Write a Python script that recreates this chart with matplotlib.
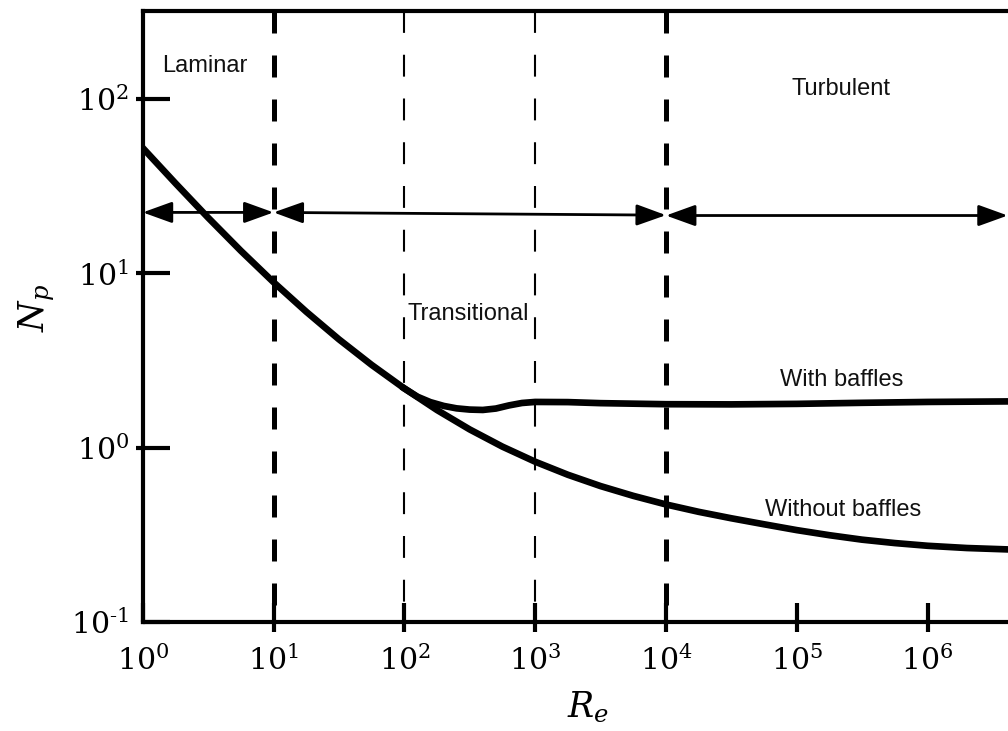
import matplotlib
matplotlib.use("Agg")
import matplotlib.pyplot as plt
from matplotlib.patches import FancyArrowPatch
from matplotlib.ticker import FixedLocator, FixedFormatter, NullFormatter

plt.rcParams["mathtext.fontset"] = "dejavuserif"
plt.rcParams["font.family"] = ["Liberation Sans", "DejaVu Sans"]

# Power number vs Reynolds number for a stirred tank
re_without = [1, 1.78, 3.16, 5.62, 10, 17.8, 31.6, 56.2, 100, 178, 316, 562,
              1e3, 1.78e3, 3.16e3, 5.62e3, 1e4, 1.78e4, 3.16e4, 5.62e4, 1e5,
              1.78e5, 3.16e5, 5.62e5, 1e6, 2e6, 4.2e6]
np_without = [52.5, 32.9, 20.9, 13.5, 8.91, 6.03, 4.19, 2.99, 2.19, 1.645, 1.274,
              1.015, 0.832, 0.70, 0.603, 0.53, 0.473, 0.429, 0.394, 0.364, 0.337,
              0.315, 0.297, 0.284, 0.274, 0.266, 0.261]

re_with = [100, 126, 158, 200, 251, 316, 398, 501, 631, 794, 1e3, 1.78e3, 3.16e3,
           1e4, 3.16e4, 1e5, 3.16e5, 1e6, 4.2e6]
np_with = [2.19, 1.963, 1.828, 1.738, 1.683, 1.656, 1.648, 1.679, 1.75, 1.807,
           1.832, 1.828, 1.803, 1.778, 1.774, 1.786, 1.811, 1.832, 1.845]

# Regime boundaries
bold_bounds = [10, 1e4]
light_bounds = [100, 1e3]
arrow_spans = [(1, 10), (10, 1e4), (1e4, 10 ** 6.613)]
arrow_levels = [(22.4, 22.4), (22.4, 21.6), (21.5, 21.5)]

regime_labels = ["Laminar", "Transitional", "Turbulent"]
regime_pos = [(3.0, 143), (307, 5.43), (2.19e5, 106)]
curve_labels = ["With baffles", "Without baffles"]
curve_label_pos = [(2.19e5, 2.25), (2.26e5, 0.404)]

xticks = [1, 10, 100, 1e3, 1e4, 1e5, 1e6]
xtick_labels = [r"$10^{0}$", r"$10^{1}$", r"$10^{2}$", r"$10^{3}$",
                r"$10^{4}$", r"$10^{5}$", r"$10^{6}$"]
yticks = [0.1, 1, 10, 100]
ytick_labels = [r"$10^{\text{-}1}$", r"$10^{0}$", r"$10^{1}$", r"$10^{2}$"]

fig = plt.figure(figsize=(10.08, 7.31), dpi=100)
ax = fig.add_axes([0.1416, 0.149, 1 - 0.1416, 0.9843 - 0.149])
ax.set_xscale("log")
ax.set_yscale("log")
ax.set_xlim(1, 10 ** 6.615)
ax.set_ylim(0.1, 10 ** 2.503)

for x in bold_bounds:
    ax.axvline(x, ymin=1, ymax=0, color="black", lw=3.6,
               linestyle=(0, (4.4, 4.4)), zorder=2)
for x in light_bounds:
    ax.axvline(x, ymin=1, ymax=0, color="black", lw=1.5,
               linestyle=(0, (10.5, 10.5)), zorder=2)

ax.plot(re_without, np_without, color="black", lw=4.8,
        solid_joinstyle="round", zorder=3)
ax.plot(re_with, np_with, color="black", lw=4.8,
        solid_joinstyle="round", zorder=3)

for (x0, x1), (y0, y1) in zip(arrow_spans, arrow_levels):
    arr = FancyArrowPatch((x0, y0), (x1, y1),
                          arrowstyle="<|-|>,head_length=18,head_width=6.5",
                          mutation_scale=1, lw=2.0, color="black",
                          shrinkA=0, shrinkB=0, clip_on=False, zorder=4)
    ax.add_patch(arr)

for text, (x, y) in zip(regime_labels + curve_labels, regime_pos + curve_label_pos):
    ax.text(x, y, text, ha="center", va="baseline", fontsize=17, color="#111111")

# ticks: inward major marks plus short outward stubs
ax.xaxis.set_major_locator(FixedLocator(xticks))
ax.xaxis.set_major_formatter(FixedFormatter(xtick_labels))
ax.xaxis.set_minor_locator(FixedLocator(xticks[1:]))
ax.xaxis.set_minor_formatter(NullFormatter())
ax.yaxis.set_major_locator(FixedLocator(yticks))
ax.yaxis.set_major_formatter(FixedFormatter(ytick_labels))
ax.yaxis.set_minor_locator(FixedLocator(yticks[1:]))
ax.yaxis.set_minor_formatter(NullFormatter())
ax.xaxis.remove_overlapping_locs = False
ax.yaxis.remove_overlapping_locs = False

ax.tick_params(axis="x", which="major", direction="in", length=13.7, width=3,
               pad=17, labelsize=21.5)
ax.tick_params(axis="x", which="minor", direction="out", length=7, width=3)
ax.tick_params(axis="y", which="major", direction="in", length=19.5, width=3,
               pad=10, labelsize=21.5)
ax.tick_params(axis="y", which="minor", direction="out", length=5, width=3)

for side in ("left", "bottom", "top"):
    ax.spines[side].set_linewidth(3)
ax.spines["right"].set_visible(False)

ax.set_xlabel(r"$R_e$", fontsize=25)
ax.xaxis.set_label_coords(0.5146, -0.111)
ax.set_ylabel(r"$N_p$", fontsize=25)
ax.yaxis.set_label_coords(-0.099, 0.514)

fig.savefig("out.png", dpi=100)
